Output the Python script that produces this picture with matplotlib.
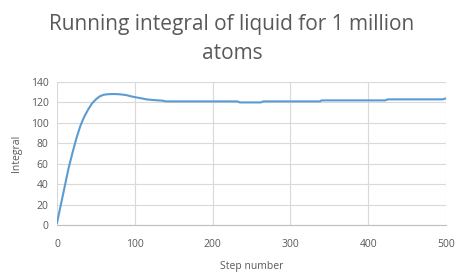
import matplotlib
matplotlib.use('Agg')
from matplotlib import pyplot as plt

# running integral
steps = [0, 5, 10, 15, 20, 25, 30, 35, 40, 45, 50, 55, 60, 65, 70, 75, 80, 85, 90, 95,
         100, 105, 110, 115, 120, 125, 130, 135, 140,
         232, 235, 262, 265, 338, 340, 422, 425, 496, 500]
integral = [2, 20, 38, 56, 71, 85, 97, 106, 113, 119, 123, 126, 127.5, 128, 128.2, 128.2, 128, 127.6, 127, 126,
            125.2, 124.5, 123.8, 123, 122.6, 122.3, 122, 121.8, 121,
            121, 120, 120, 121, 121, 122, 122, 123, 123, 124]

x_ticks = [0, 100, 200, 300, 400, 500]
y_ticks = [0, 20, 40, 60, 80, 100, 120, 140]

txt = '#595959'
grid = '#d9d9d9'

fig = plt.figure(figsize=(4.64, 2.79), dpi=100)
ax = fig.add_axes([57 / 464, 1 - 225 / 279, 389 / 464, 143 / 279])

ax.plot(steps, integral, color='#5b9bd5', lw=1.5)

ax.set_xlim(0, 500)
ax.set_ylim(0, 140)
ax.set_xticks(x_ticks)
ax.set_yticks(y_ticks)
ax.grid(True, color=grid, lw=0.8)
ax.set_axisbelow(True)
for s in ['top', 'right', 'left']:
    ax.spines[s].set_visible(False)
ax.spines['bottom'].set_color('#bfbfbf')
ax.tick_params(length=0, labelsize=7.5, colors=txt)
ax.tick_params(axis='x', pad=10)
ax.tick_params(axis='y', pad=6)
for lab in ax.get_xticklabels() + ax.get_yticklabels():
    lab.set_fontfamily('Open Sans')

ax.set_xlabel('Step number', fontsize=7.5, color=txt, family='Open Sans', labelpad=8)
ax.set_ylabel('Integral', fontsize=7.5, color=txt, family='Open Sans', labelpad=6)

fig.text(0.5, 0.86, 'Running integral of liquid for 1 million\natoms', ha='center', va='center',
         fontsize=15, color=txt, family='Open Sans', linespacing=1.45)

fig.savefig('out.png', dpi=100)
